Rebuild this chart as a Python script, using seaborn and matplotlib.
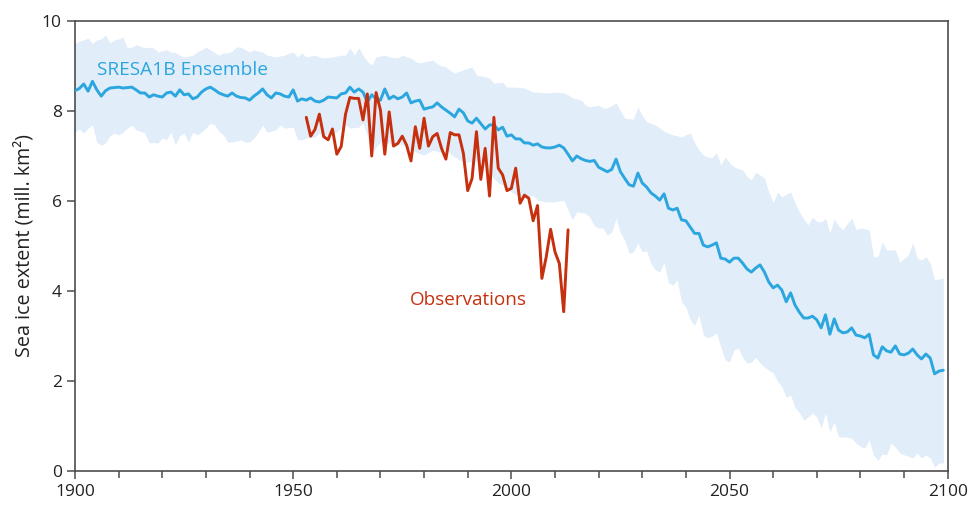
import numpy as np
import pandas as pd
import matplotlib
matplotlib.use("Agg")
import matplotlib.pyplot as plt
from matplotlib.ticker import MultipleLocator
import seaborn as sns

# Model ensemble (SRES A1B), annual values 1900-2099, million km^2
years = list(range(1900, 2100))
ensemble_mean = [
    8.45, 8.50, 8.60, 8.44, 8.66, 8.47, 8.33, 8.45, 8.51, 8.52,
    8.53, 8.51, 8.52, 8.53, 8.47, 8.40, 8.40, 8.31, 8.36, 8.33,
    8.31, 8.40, 8.42, 8.33, 8.47, 8.36, 8.38, 8.27, 8.31, 8.42,
    8.49, 8.53, 8.47, 8.40, 8.36, 8.33, 8.40, 8.33, 8.30, 8.29,
    8.24, 8.33, 8.40, 8.49, 8.36, 8.29, 8.40, 8.38, 8.33, 8.31,
    8.47, 8.22, 8.27, 8.24, 8.29, 8.22, 8.20, 8.24, 8.31, 8.30,
    8.29, 8.38, 8.40, 8.53, 8.42, 8.49, 8.42, 8.20, 8.36, 8.27,
    8.24, 8.49, 8.27, 8.33, 8.27, 8.31, 8.40, 8.18, 8.22, 8.24,
    8.04, 8.07, 8.09, 8.18, 8.09, 8.02, 7.95, 7.87, 8.04, 7.96,
    7.78, 7.73, 7.84, 7.72, 7.60, 7.69, 7.69, 7.58, 7.64, 7.44,
    7.47, 7.38, 7.38, 7.29, 7.29, 7.24, 7.27, 7.20, 7.18, 7.18,
    7.20, 7.24, 7.18, 7.04, 6.89, 7.00, 6.94, 6.90, 6.88, 6.90,
    6.75, 6.70, 6.65, 6.70, 6.93, 6.65, 6.50, 6.36, 6.33, 6.62,
    6.40, 6.31, 6.18, 6.11, 6.02, 6.16, 5.84, 5.80, 5.84, 5.58,
    5.56, 5.42, 5.28, 5.28, 5.02, 4.98, 5.02, 5.07, 4.73, 4.71,
    4.64, 4.73, 4.73, 4.62, 4.49, 4.42, 4.51, 4.58, 4.42, 4.20,
    4.07, 4.13, 4.02, 3.76, 3.96, 3.69, 3.53, 3.40, 3.40, 3.44,
    3.36, 3.18, 3.47, 3.04, 3.38, 3.13, 3.07, 3.09, 3.18, 3.02,
    3.00, 2.96, 3.04, 2.58, 2.51, 2.76, 2.67, 2.64, 2.78, 2.60,
    2.58, 2.62, 2.71, 2.58, 2.49, 2.60, 2.51, 2.16, 2.22, 2.24,
]
ensemble_upper = [
    9.50, 9.55, 9.58, 9.62, 9.50, 9.58, 9.60, 9.69, 9.51, 9.58,
    9.60, 9.64, 9.40, 9.42, 9.47, 9.44, 9.40, 9.42, 9.40, 9.31,
    9.34, 9.36, 9.31, 9.30, 9.24, 9.20, 9.22, 9.24, 9.31, 9.36,
    9.42, 9.36, 9.30, 9.24, 9.29, 9.29, 9.33, 9.42, 9.42, 9.36,
    9.31, 9.36, 9.33, 9.31, 9.24, 9.22, 9.20, 9.22, 9.24, 9.28,
    9.31, 9.20, 9.29, 9.20, 9.22, 9.24, 9.20, 9.18, 9.19, 9.20,
    9.22, 9.24, 9.24, 9.40, 9.24, 9.40, 9.24, 9.10, 9.02, 9.20,
    9.22, 9.24, 9.20, 9.19, 9.18, 9.24, 9.20, 9.18, 9.10, 9.07,
    9.09, 9.11, 9.13, 9.05, 9.00, 8.98, 8.90, 8.84, 8.88, 8.91,
    8.95, 8.98, 8.80, 8.78, 8.76, 8.73, 8.62, 8.63, 8.64, 8.53,
    8.53, 8.53, 8.52, 8.51, 8.46, 8.42, 8.42, 8.41, 8.40, 8.41,
    8.42, 8.41, 8.40, 8.36, 8.29, 8.27, 8.24, 8.13, 8.09, 8.11,
    8.13, 8.07, 8.07, 8.12, 8.18, 8.00, 7.84, 7.83, 7.82, 8.09,
    7.90, 7.76, 7.72, 7.69, 7.62, 7.55, 7.51, 7.47, 7.45, 7.42,
    7.47, 7.51, 7.30, 7.13, 7.02, 6.98, 6.96, 7.07, 6.80, 6.98,
    6.85, 6.76, 6.72, 6.69, 6.55, 6.47, 6.64, 6.58, 6.51, 6.20,
    5.96, 6.20, 6.09, 6.15, 6.20, 5.96, 5.75, 5.60, 5.47, 5.64,
    5.55, 5.53, 5.62, 5.29, 5.60, 5.45, 5.36, 5.50, 5.62, 5.36,
    5.40, 5.38, 5.36, 4.76, 4.76, 5.09, 4.91, 4.91, 4.91, 4.64,
    4.72, 4.80, 5.07, 4.73, 4.69, 4.76, 4.62, 4.24, 4.27, 4.29,
]
ensemble_lower = [
    7.53, 7.60, 7.51, 7.62, 7.69, 7.31, 7.24, 7.29, 7.45, 7.51,
    7.47, 7.53, 7.62, 7.69, 7.58, 7.55, 7.51, 7.29, 7.30, 7.29,
    7.40, 7.36, 7.53, 7.24, 7.45, 7.51, 7.31, 7.53, 7.47, 7.53,
    7.62, 7.73, 7.69, 7.55, 7.47, 7.31, 7.31, 7.33, 7.36, 7.31,
    7.31, 7.40, 7.53, 7.69, 7.53, 7.55, 7.58, 7.69, 7.62, 7.63,
    7.64, 7.36, 7.36, 7.40, 7.41, 7.42, 7.51, 7.40, 7.51, 7.52,
    7.53, 7.62, 7.69, 7.62, 7.63, 7.64, 7.73, 7.45, 7.05, 7.20,
    7.30, 7.25, 7.30, 7.22, 7.28, 7.25, 7.20, 7.13, 7.10, 7.05,
    7.02, 7.08, 7.13, 7.10, 7.07, 7.18, 7.05, 6.98, 6.92, 6.87,
    6.87, 6.87, 6.89, 6.91, 6.75, 6.62, 6.50, 6.40, 6.36, 6.28,
    6.20, 6.15, 6.09, 6.09, 6.09, 6.13, 6.02, 6.00, 5.98, 5.98,
    5.98, 6.00, 6.02, 5.80, 5.58, 5.76, 5.74, 5.73, 5.64, 5.45,
    5.40, 5.40, 5.24, 5.31, 5.62, 5.29, 5.13, 4.84, 4.87, 5.07,
    4.87, 4.89, 4.62, 4.47, 4.42, 4.64, 4.18, 4.13, 4.24, 3.76,
    3.64, 3.36, 3.24, 3.47, 3.02, 2.96, 3.00, 3.07, 2.76, 2.47,
    2.42, 2.69, 2.73, 2.53, 2.40, 2.42, 2.53, 2.40, 2.31, 2.24,
    2.18, 2.00, 1.87, 1.64, 1.69, 1.42, 1.30, 1.13, 1.20, 1.29,
    1.20, 0.96, 1.29, 0.87, 1.09, 0.76, 0.76, 0.75, 0.73, 0.62,
    0.55, 0.51, 0.69, 0.36, 0.24, 0.38, 0.36, 0.62, 0.53, 0.40,
    0.36, 0.33, 0.29, 0.40, 0.29, 0.36, 0.29, 0.09, 0.18, 0.18,
]

# Observed September sea ice extent, 1953-2013
obs_years = list(range(1953, 2014))
observations = [
    7.86, 7.44, 7.59, 7.93, 7.43, 7.36, 7.60,
    7.04, 7.21, 7.93, 8.30, 8.28, 8.28, 7.80, 8.38, 7.00, 8.41,
    8.02, 7.04, 7.98, 7.22, 7.28, 7.44, 7.24, 6.89, 7.65, 7.17,
    7.84, 7.22, 7.43, 7.50, 7.17, 6.93, 7.52, 7.47, 7.47, 7.06,
    6.23, 6.50, 7.54, 6.48, 7.17, 6.11, 7.86, 6.73, 6.58, 6.23,
    6.28, 6.73, 5.95, 6.13, 6.06, 5.56, 5.90, 4.28, 4.76, 5.37,
    4.87, 4.61, 3.54, 5.36,
]

ens = pd.DataFrame({"year": years, "mean": ensemble_mean,
                    "upper": ensemble_upper, "lower": ensemble_lower})
obs = pd.DataFrame({"year": obs_years, "extent": observations})

BLUE = "#2ba6de"
BAND = "#e1edf9"
RED = "#c6300f"
AXIS = "#4d4d4d"

sns.set_style("ticks")
plt.rcParams["font.family"] = ["Open Sans", "DejaVu Sans"]

fig = plt.figure(figsize=(9.69, 5.08), dpi=100)
ax = fig.add_axes([0.0774, 0.0728, 0.9006, 0.8859])

ax.fill_between(ens["year"], ens["lower"], ens["upper"], color=BAND, lw=0, zorder=1)
sns.lineplot(data=ens, x="year", y="mean", color=BLUE, lw=2.1, ax=ax, zorder=3)
sns.lineplot(data=obs, x="year", y="extent", color=RED, lw=2.1, ax=ax, zorder=4)

ax.text(1905, 8.92, "SRESA1B Ensemble", color=BLUE, fontsize=13.8,
        ha="left", va="center")
ax.text(1976.7, 3.8, "Observations", color=RED, fontsize=13.6,
        ha="left", va="center")

ax.set_xlim(1900, 2100)
ax.set_ylim(0, 10)
ax.xaxis.set_major_locator(MultipleLocator(50))
ax.xaxis.set_minor_locator(MultipleLocator(10))
ax.yaxis.set_major_locator(MultipleLocator(2))
ax.set_xlabel("")
ax.set_ylabel("Sea ice extent (mill. km²)", fontsize=14.2, color="#222222", labelpad=5)

for side in ["left", "right", "top", "bottom"]:
    ax.spines[side].set_visible(True)
    ax.spines[side].set_color(AXIS)
    ax.spines[side].set_linewidth(1.2)

ax.tick_params(axis="both", which="major", direction="out", length=6, width=1.1,
               color=AXIS, labelsize=12.5, labelcolor="#222222")
ax.tick_params(axis="x", which="minor", direction="out", length=5, width=1.1, color=AXIS)
ax.tick_params(axis="y", which="both", right=False)
ax.tick_params(axis="x", which="both", top=False)

fig.savefig("out.png", dpi=100)
